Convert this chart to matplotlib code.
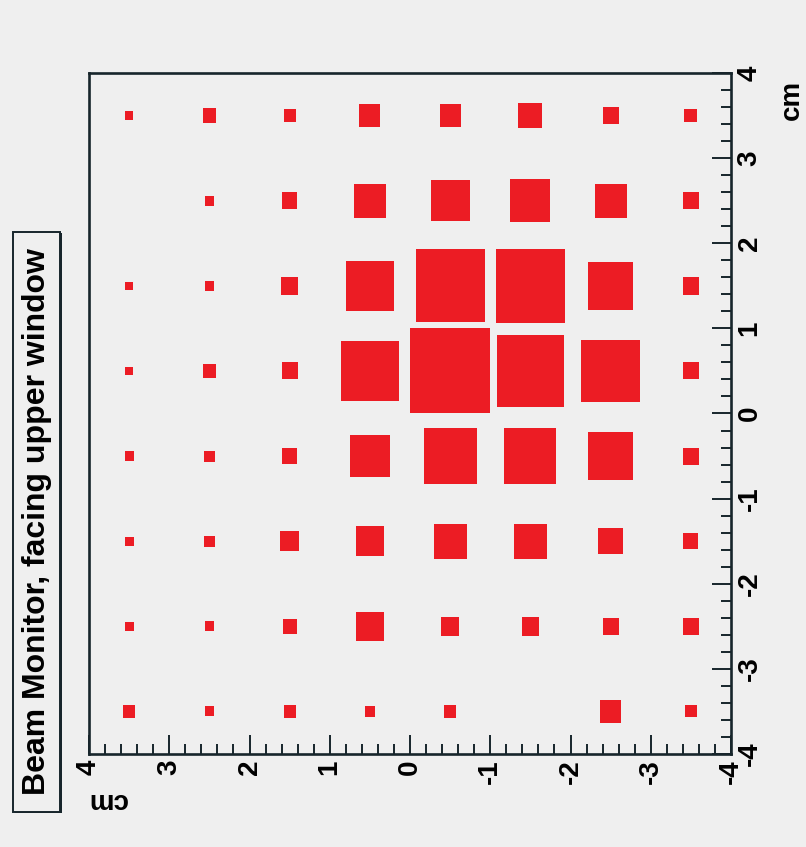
import numpy as np
import matplotlib
matplotlib.use("Agg")
import matplotlib.pyplot as plt
from matplotlib.patches import Rectangle
from matplotlib.ticker import MultipleLocator, FixedLocator

# Bin centres in cm (8 x 8 grid of 1 cm cells)
vert_centres = [3.5, 2.5, 1.5, 0.5, -0.5, -1.5, -2.5, -3.5]   # right-hand scale, top to bottom
horiz_centres = [3.5, 2.5, 1.5, 0.5, -0.5, -1.5, -2.5, -3.5]  # bottom scale, left to right

# Relative hit counts per cell; rows follow vert_centres, columns follow horiz_centres
counts = [
    [1.0, 2.9, 2.3, 6.8, 6.8, 9.0, 4.0, 2.6],
    [0.0, 1.4, 3.8, 16.0, 23.5, 25.0, 16.0, 4.0],
    [1.0, 1.3, 4.2, 34.8, 74.0, 74.8, 32.5, 4.2],
    [1.0, 2.7, 4.0, 51.0, 100.0, 70.6, 54.0, 4.0],
    [1.2, 1.7, 3.6, 25.0, 44.0, 42.0, 31.4, 4.0],
    [1.2, 1.7, 5.3, 12.3, 16.8, 16.8, 9.6, 3.6],
    [1.2, 1.4, 3.1, 11.6, 4.8, 4.8, 4.0, 4.0],
    [2.3, 1.4, 2.3, 1.7, 2.3, 0.0, 7.3, 2.0],
]

tick_values = [-4, -3, -2, -1, 0, 1, 2, 3, 4]
title_text = "Beam Monitor, facing upper window"
unit_text = "cm"

BG = "#efefef"
RED = "#ec1c24"
INK = "#17252b"
FONT = ["Liberation Sans", "DejaVu Sans"]

W, H = 806, 847
fig = plt.figure(figsize=(W / 100, H / 100), dpi=100, facecolor=BG)

# axes frame in pixels: left 89, right 731, top 73, bottom 754
ax = fig.add_axes([89 / W, 1 - 754 / H, 642 / W, 681 / H], facecolor=BG)
ax.set_xlim(4, -4)
ax.set_ylim(-4, 4)

# box size: area proportional to content, largest cell fills its bin
cmax = max(max(r) for r in counts)
for i, yc in enumerate(vert_centres):
    for j, xc in enumerate(horiz_centres):
        c = counts[i][j]
        if c <= 0:
            continue
        s = np.sqrt(c / cmax)
        ax.add_patch(Rectangle((xc - s / 2, yc - s / 2), s, s,
                               facecolor=RED, edgecolor="none"))

for sp in ax.spines.values():
    sp.set_color(INK)
    sp.set_linewidth(1.9)

ax.xaxis.set_major_locator(FixedLocator(tick_values))
ax.xaxis.set_minor_locator(MultipleLocator(0.2))
ax.yaxis.set_major_locator(FixedLocator(tick_values))
ax.yaxis.set_minor_locator(MultipleLocator(0.2))
ax.yaxis.tick_right()

ax.tick_params(axis="both", which="both", direction="in", color=INK, width=1.4)
ax.tick_params(axis="both", which="major", length=13.5)
ax.tick_params(axis="both", which="minor", length=7.0)
ax.tick_params(axis="x", which="major", pad=4)
ax.tick_params(axis="y", which="major", pad=4)
ax.tick_params(left=False, top=False, which="both")

lbl_font = dict(family=FONT, weight="bold", size=20)
ax.set_xticklabels([str(v) for v in tick_values], rotation=90, va="top", ha="center", **lbl_font)
ax.set_yticklabels([str(v) for v in tick_values], rotation=90, va="center", ha="left", **lbl_font)

# axis unit labels
fig.text(792 / W, 1 - 100 / H, unit_text, rotation=90, ha="center", va="center",
         color="black", **lbl_font)
fig.text(107 / W, 1 - 800 / H, unit_text, rotation=180, ha="center", va="center",
         color="black", **lbl_font)

# title box with a drop shadow
bx0, bx1, by0, by1 = 13, 60, 232, 812
fig.patches.append(Rectangle(((bx0 + 2) / W, 1 - (by1 + 1) / H), (bx1 - bx0) / W, (by1 - by0) / H,
                             transform=fig.transFigure, facecolor=INK, edgecolor="none", zorder=1))
fig.patches.append(Rectangle((bx0 / W, 1 - by1 / H), (bx1 - bx0) / W, (by1 - by0) / H,
                             transform=fig.transFigure, facecolor=BG, edgecolor=INK,
                             linewidth=1.4, zorder=2))
fig.text((bx0 + bx1) / 2 / W + 0.5 / W, 1 - (by0 + by1) / 2 / H, title_text, rotation=90,
         ha="center", va="center", family=FONT, weight="bold", size=23, color="black", zorder=3)

fig.savefig("out.png", dpi=100, facecolor=BG)
